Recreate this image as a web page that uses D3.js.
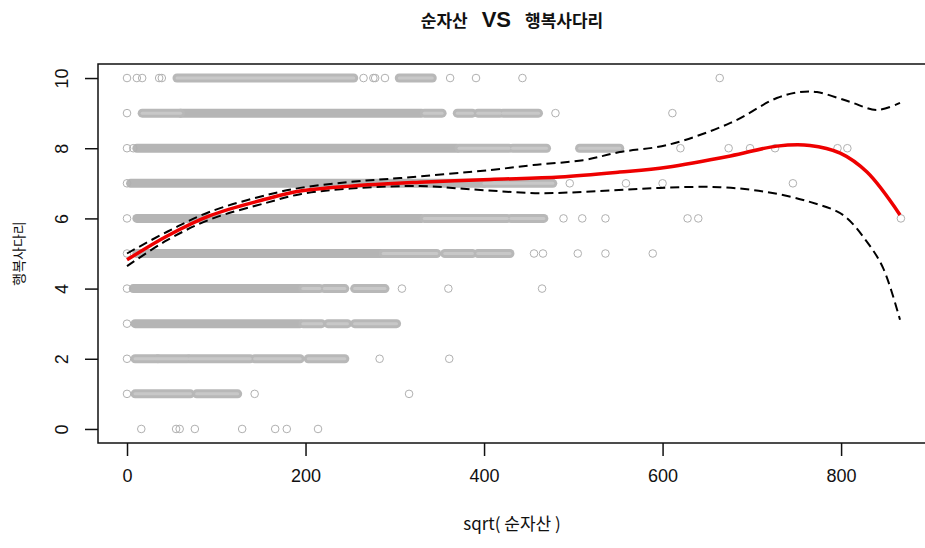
<!DOCTYPE html>
<html>
<head>
<meta charset="utf-8">
<script src="https://cdn.jsdelivr.net/npm/d3@7/dist/d3.min.js"></script>
<style>
  body{ margin:0; background:#fff; }
  svg{ display:block; }
  text{ font-family:"Liberation Sans", Arial, sans-serif; fill:#111; }
  .kr{ font-family:"Noto Sans CJK KR", "Noto Sans", sans-serif; }
</style>
</head>
<body>
<svg id="chart" width="925" height="548"></svg>
<script>
  // labels
  var titleLeft = "순자산"
  var titleMid = "VS"
  var titleRight = "행복사다리"
  var xTitle = "sqrt( 순자산 )"
  var yTitle = "행복사다리"
  var xTicks = [0, 200, 400, 600, 800]
  var yTicks = [0, 2, 4, 6, 8, 10]

  var singlePoints = [
    [10,0],[10,11],[10,17],[10,36],[10,39],[10,265],[10,276],[10,278],[10,289],[10,362],[10,391],[10,443],[10,664],
    [9,0],[9,480],[9,611],
    [8,0],[8,7],[8,620],[8,674],[8,698],[8,726],[8,796],[8,807],
    [7,0],[7,496],[7,559],[7,600],[7,746],
    [6,0],[6,489],[6,510],[6,536],[6,628],[6,640],[6,867],
    [5,0],[5,456],[5,466],[5,505],[5,536],[5,589],
    [4,0],[4,308],[4,360],[4,465],
    [3,0],
    [2,0],[2,283],[2,361],
    [1,0],[1,143],[1,316],
    [0,16],[0,55],[0,59],[0,76],[0,129],[0,166],[0,179],[0,214]
  ]
  // stretches where the circles overlap into a solid band: [level, from, to]
  var solidRuns = [
    [9,60,330],[8,11,370],[7,4,400],[6,11,330],[5,11,287],[4,7,197],[3,9,194]
  ]
  // stretches of chained, partly overlapping circles
  var chainRuns = [
    [10,56,254],[10,305,342],
    [9,17,60],[9,333,353],[9,370,387],[9,393,418],[9,421,461],
    [8,372,428],[8,432,470],[8,507,552],
    [7,400,477],
    [6,333,426],[6,430,467],
    [5,287,347],[5,356,387],[5,393,429],
    [4,197,216],[4,221,244],[4,255,289],
    [3,197,218],[3,225,247],[3,255,302],
    [2,9,34],[2,35,68],[2,70,138],[2,143,194],[2,203,244],
    [1,9,71],[1,78,124]
  ]

  // smoother fit and its band
  var fitX = [0, 45, 93, 157, 194, 250, 328, 407, 485, 552, 605, 676, 728, 765, 799, 829, 866]
  var fitY = [4.82, 5.5, 6.08, 6.56, 6.78, 6.92, 7.03, 7.11, 7.18, 7.32, 7.46, 7.78, 8.06, 8.08, 7.86, 7.32, 6.1]
  var upperX = [0, 45, 93, 157, 194, 250, 306, 407, 455, 511, 552, 605, 676, 728, 754, 773, 810, 840, 866]
  var upperY = [5.0, 5.62, 6.19, 6.67, 6.87, 7.04, 7.15, 7.38, 7.52, 7.66, 7.89, 8.09, 8.72, 9.43, 9.6, 9.6, 9.32, 9.09, 9.29]
  var lowerX = [0, 45, 93, 157, 194, 250, 328, 396, 463, 530, 597, 664, 717, 765, 802, 829, 847, 866]
  var lowerY = [4.64, 5.38, 5.97, 6.45, 6.69, 6.85, 6.92, 6.81, 6.72, 6.78, 6.87, 6.89, 6.75, 6.47, 6.1, 5.33, 4.59, 3.11]

  var svg = d3.select("#chart")
  var mLeft = 98, mRight = 925, mTop = 64, mBottom = 443

  var x = d3.scaleLinear().domain([-32.5, 894]).range([mLeft, mRight])
  var y = d3.scaleLinear().domain([-0.4, 10.4]).range([mBottom, mTop])

  var plot = svg.append("g")

  // overlapping circles drawn as bands
  plot.selectAll("line.solid")
    .data(solidRuns)
    .enter().append("line")
    .attr("class","solid")
    .attr("x1",function(d){ return x(d[1]) })
    .attr("x2",function(d){ return x(d[2]) })
    .attr("y1",function(d){ return y(d[0]) })
    .attr("y2",function(d){ return y(d[0]) })
    .attr("stroke","#b5b5b5")
    .attr("stroke-width",9)
    .attr("stroke-linecap","round")

  plot.selectAll("line.chain")
    .data(chainRuns)
    .enter().append("line")
    .attr("class","chain")
    .attr("x1",function(d){ return x(d[1]) })
    .attr("x2",function(d){ return x(d[2]) })
    .attr("y1",function(d){ return y(d[0]) })
    .attr("y2",function(d){ return y(d[0]) })
    .attr("stroke","#b8b8b8")
    .attr("stroke-width",9)
    .attr("stroke-linecap","round")
  plot.selectAll("line.chainin")
    .data(chainRuns)
    .enter().append("line")
    .attr("class","chainin")
    .attr("x1",function(d){ return x(d[1]) })
    .attr("x2",function(d){ return x(d[2]) })
    .attr("y1",function(d){ return y(d[0]) })
    .attr("y2",function(d){ return y(d[0]) })
    .attr("stroke","#c8c8c8")
    .attr("stroke-width",3)
    .attr("stroke-linecap","round")

  plot.selectAll("circle")
    .data(singlePoints)
    .enter().append("circle")
    .attr("cx",function(d){ return x(d[1]) })
    .attr("cy",function(d){ return y(d[0]) })
    .attr("r",3.8)
    .attr("fill","none")
    .attr("stroke","#b0b0b0")
    .attr("stroke-width",1)

  var line = d3.line()
    .x(function(d){ return x(d[0]) })
    .y(function(d){ return y(d[1]) })
    .curve(d3.curveCatmullRom.alpha(0.5))

  plot.append("path")
    .datum(d3.zip(upperX, upperY))
    .attr("d", line)
    .attr("fill","none")
    .attr("stroke","#000")
    .attr("stroke-width",2)
    .attr("stroke-dasharray","9,5")
  plot.append("path")
    .datum(d3.zip(lowerX, lowerY))
    .attr("d", line)
    .attr("fill","none")
    .attr("stroke","#000")
    .attr("stroke-width",2)
    .attr("stroke-dasharray","9,5")
  plot.append("path")
    .datum(d3.zip(fitX, fitY))
    .attr("d", line)
    .attr("fill","none")
    .attr("stroke","#ee0000")
    .attr("stroke-width",3.5)

  // box
  svg.append("rect")
    .attr("x",mLeft).attr("y",mTop)
    .attr("width",mRight - mLeft + 6).attr("height",mBottom - mTop)
    .attr("fill","none").attr("stroke","#111").attr("stroke-width",1.5)

  // axes
  var xAxis = svg.append("g")
    .attr("transform","translate(0," + mBottom + ")")
    .call(d3.axisBottom(x).tickValues(xTicks).tickSize(13).tickSizeOuter(0).tickPadding(13))
  xAxis.select(".domain").remove()
  xAxis.selectAll("line").attr("stroke","#111").attr("stroke-width",1.5)
  xAxis.selectAll("text").attr("font-size",18).attr("fill","#111")
    .attr("font-family","Liberation Sans, Arial, sans-serif")

  var yAxis = svg.append("g")
    .attr("transform","translate(" + mLeft + ",0)")
    .call(d3.axisLeft(y).tickValues(yTicks).tickSize(13).tickSizeOuter(0))
  yAxis.select(".domain").remove()
  yAxis.selectAll("line").attr("stroke","#111").attr("stroke-width",1.5)
  yAxis.selectAll("text").remove()
  yAxis.selectAll(".tick").append("text")
    .attr("transform","translate(-30,0) rotate(-90)")
    .attr("text-anchor","middle")
    .attr("font-size",18)
    .attr("fill","#111")
    .attr("font-family","Liberation Sans, Arial, sans-serif")
    .text(function(d){ return d })

  // titles
  var title = svg.append("text")
    .attr("x",512).attr("y",27)
    .attr("text-anchor","middle")
  title.append("tspan").attr("class","kr").attr("font-size",17).attr("font-weight","bold").text(titleLeft)
  title.append("tspan").attr("font-size",22).attr("font-weight","bold").attr("dx",14).text(titleMid)
  title.append("tspan").attr("class","kr").attr("font-size",17).attr("font-weight","bold").attr("dx",14).text(titleRight)

  svg.append("text")
    .attr("class","kr")
    .attr("x",512).attr("y",530)
    .attr("text-anchor","middle")
    .attr("font-size",17)
    .text(xTitle)

  svg.append("text")
    .attr("class","kr")
    .attr("transform","translate(24," + ((mTop + mBottom) / 2) + ") rotate(-90)")
    .attr("text-anchor","middle")
    .attr("font-size",14)
    .text(yTitle)
</script>
</body>
</html>
